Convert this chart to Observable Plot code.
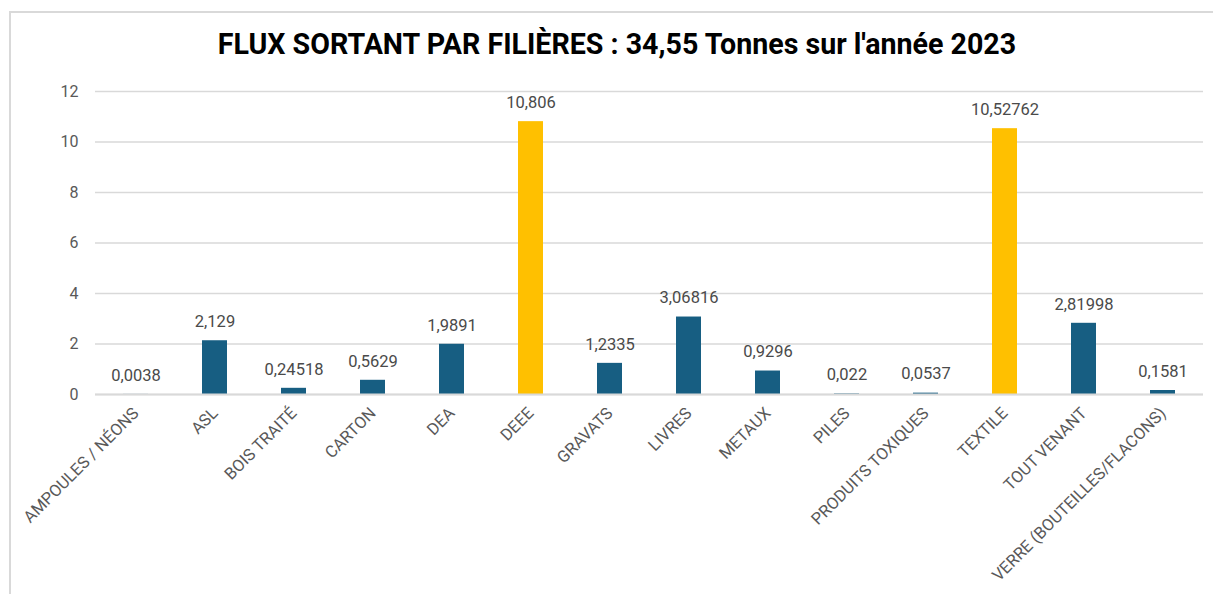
<!DOCTYPE html>
<html><head><meta charset="utf-8">
<script src="https://cdn.jsdelivr.net/npm/d3@7"></script>
<script src="https://cdn.jsdelivr.net/npm/@observablehq/plot@0.6"></script>
<style>
body{margin:0;background:#fff;}
#wrap{position:relative;width:1213px;height:594px;overflow:hidden;}
#frame{position:absolute;left:9px;top:11px;width:1400px;height:800px;border:2px solid #d9d9d9;box-sizing:border-box;}
#title{position:absolute;top:27px;left:0;width:1234px;text-align:center;font-family:Roboto,sans-serif;font-weight:bold;font-size:28.6px;color:#000;}
#chart{position:absolute;left:0;top:0;}
</style></head>
<body><div id="wrap"><div id="frame"></div><div id="title">FLUX SORTANT PAR FILIÈRES : 34,55 Tonnes sur l'année 2023</div><div id="chart"></div></div>
<script>
const categories = ["AMPOULES / NÉONS","ASL","BOIS TRAITÉ","CARTON","DEA","DEEE","GRAVATS","LIVRES","METAUX","PILES","PRODUITS TOXIQUES","TEXTILE","TOUT VENANT","VERRE (BOUTEILLES/FLACONS)"];
const values = [0.0038,2.129,0.24518,0.5629,1.9891,10.806,1.2335,3.06816,0.9296,0.022,0.0537,10.52762,2.81998,0.1581];
const highlighted = ["DEEE","TEXTILE"];
const yTicks = [0,2,4,6,8,10,12];

const data = categories.map((c,i)=>({cat:c, v:values[i], label:String(values[i]).replace(".",","), hl:highlighted.includes(c)}));

const chart = Plot.plot({
  width:1213, height:594,
  marginLeft:95, marginRight:10, marginTop:91, marginBottom:200,
  style:{fontFamily:"Roboto,'Liberation Sans',Arial,sans-serif", background:"transparent"},
  x:{domain:categories, paddingInner:0.685, paddingOuter:0.3425, label:null},
  y:{domain:[0,12], label:null},
  marks:[
    Plot.ruleY(yTicks,{stroke:"#d9d9d9", strokeWidth:1.3}),
    Plot.barY(data,{x:"cat", y:"v", fill:d=>d.hl?"#FFC000":"#175E82"}),
    Plot.ruleY([0],{stroke:"#d9d9d9", strokeWidth:2}),
    Plot.text(data,{x:"cat", y:"v", text:"label", dy:-19, fill:"#4a4a4a", fontSize:16.5, fontFamily:"Roboto,'Liberation Sans',Arial,sans-serif"}),
    Plot.axisY({ticks:yTicks, tickSize:0, tickPadding:17, fontSize:16, color:"#595959", tickFormat:d=>String(d)}),
    Plot.axisX({tickSize:0, tickPadding:16, tickRotate:-45, fontSize:16.5, color:"#595959", fontFamily:"Roboto,sans-serif"})
  ]
});
document.getElementById("chart").appendChild(chart);
</script></body></html>
